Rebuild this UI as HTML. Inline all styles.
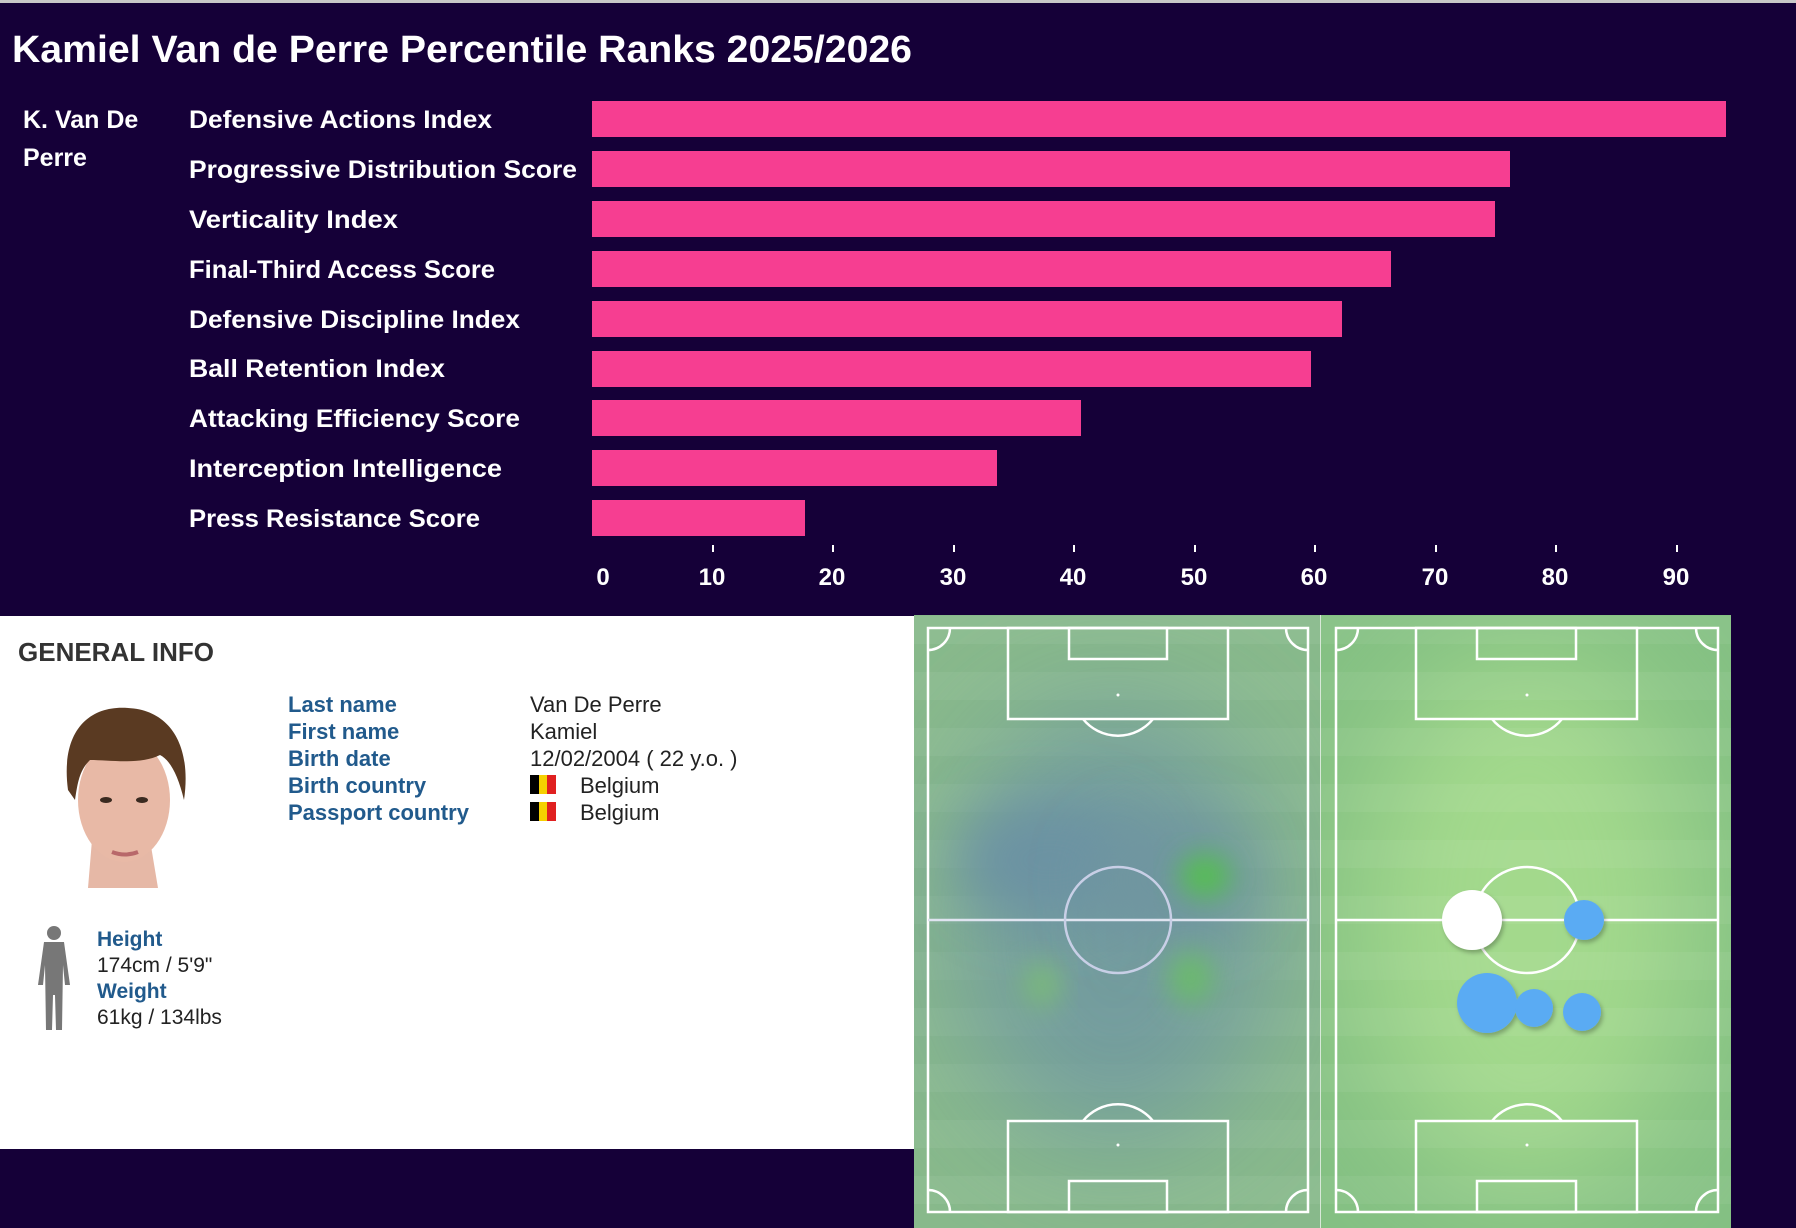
<!DOCTYPE html>
<html><head><meta charset="utf-8"><style>
html,body{margin:0;padding:0;background:#150038;}
svg{display:block}
text{font-family:"Liberation Sans",sans-serif}
</style></head><body>
<svg width="1796" height="1228" viewBox="0 0 1796 1228" xmlns="http://www.w3.org/2000/svg">
<defs>
<filter id="b1" x="-50%" y="-50%" width="200%" height="200%"><feGaussianBlur stdDeviation="28"/></filter>
<filter id="b2" x="-50%" y="-50%" width="200%" height="200%"><feGaussianBlur stdDeviation="14"/></filter>
<filter id="b3" x="-50%" y="-50%" width="200%" height="200%"><feGaussianBlur stdDeviation="60"/></filter>
<filter id="sh"><feDropShadow dx="2" dy="3" stdDeviation="2" flood-color="#000" flood-opacity="0.25"/></filter>
<clipPath id="c1"><rect x="914" y="615" width="406" height="613"/></clipPath>
<clipPath id="c2"><rect x="1321" y="615" width="410" height="613"/></clipPath>
<pattern id="st1" width="10" height="56" patternUnits="userSpaceOnUse"><rect width="10" height="28" fill="#fff" opacity="0.05"/></pattern>
</defs>
<rect width="1796" height="1228" fill="#150038"/>
<rect width="1796" height="3" fill="#c8c8c8"/>
<text x="12" y="62" fill="#fff" font-size="38" font-weight="bold" textLength="900" lengthAdjust="spacingAndGlyphs">Kamiel Van de Perre Percentile Ranks 2025/2026</text>
<g fill="#fff" font-size="25" font-weight="bold">
<text x="23" y="128">K. Van De</text><text x="23" y="166">Perre</text>
<text x="189" y="128" textLength="303" lengthAdjust="spacingAndGlyphs">Defensive Actions Index</text>
<text x="189" y="178" textLength="388" lengthAdjust="spacingAndGlyphs">Progressive Distribution Score</text>
<text x="189" y="228" textLength="209" lengthAdjust="spacingAndGlyphs">Verticality Index</text>
<text x="189" y="278" textLength="306" lengthAdjust="spacingAndGlyphs">Final-Third Access Score</text>
<text x="189" y="328" textLength="331" lengthAdjust="spacingAndGlyphs">Defensive Discipline Index</text>
<text x="189" y="377" textLength="256" lengthAdjust="spacingAndGlyphs">Ball Retention Index</text>
<text x="189" y="427" textLength="331" lengthAdjust="spacingAndGlyphs">Attacking Efficiency Score</text>
<text x="189" y="477" textLength="313" lengthAdjust="spacingAndGlyphs">Interception Intelligence</text>
<text x="189" y="527" textLength="291" lengthAdjust="spacingAndGlyphs">Press Resistance Score</text>
</g>
<g fill="#f63e91">
<rect x="592" y="101" width="1134" height="36"/>
<rect x="592" y="151" width="918" height="36"/>
<rect x="592" y="201" width="903" height="36"/>
<rect x="592" y="251" width="799" height="36"/>
<rect x="592" y="301" width="750" height="36"/>
<rect x="592" y="351" width="719" height="36"/>
<rect x="592" y="400" width="489" height="36"/>
<rect x="592" y="450" width="405" height="36"/>
<rect x="592" y="500" width="213" height="36"/>
</g>
<g stroke="#fff" stroke-width="2">
<line x1="713" y1="545" x2="713" y2="552"/><line x1="833" y1="545" x2="833" y2="552"/><line x1="954" y1="545" x2="954" y2="552"/><line x1="1074" y1="545" x2="1074" y2="552"/><line x1="1195" y1="545" x2="1195" y2="552"/><line x1="1315" y1="545" x2="1315" y2="552"/><line x1="1436" y1="545" x2="1436" y2="552"/><line x1="1556" y1="545" x2="1556" y2="552"/><line x1="1677" y1="545" x2="1677" y2="552"/>
</g>
<g fill="#fff" font-size="24" font-weight="bold" text-anchor="middle">
<text x="603" y="585">0</text><text x="712" y="585">10</text><text x="832" y="585">20</text><text x="953" y="585">30</text><text x="1073" y="585">40</text><text x="1194" y="585">50</text><text x="1314" y="585">60</text><text x="1435" y="585">70</text><text x="1555" y="585">80</text><text x="1676" y="585">90</text>
</g>
<rect x="0" y="616" width="914" height="533" fill="#fff"/>
<text x="18" y="661" fill="#333" font-size="26" font-weight="bold">GENERAL INFO</text>
<g fill="#215a8c" font-size="22" font-weight="bold">
<text x="288" y="712">Last name</text><text x="288" y="739">First name</text><text x="288" y="766">Birth date</text><text x="288" y="793">Birth country</text><text x="288" y="820">Passport country</text>
</g>
<g fill="#222" font-size="22">
<text x="530" y="712">Van De Perre</text><text x="530" y="739">Kamiel</text><text x="530" y="766">12/02/2004 ( 22 y.o. )</text><text x="580" y="793">Belgium</text><text x="580" y="820">Belgium</text>
</g>
<g><rect x="530" y="775" width="9" height="19" fill="#000"/><rect x="539" y="775" width="8" height="19" fill="#f5d000"/><rect x="547" y="775" width="9" height="19" fill="#e02020"/>
<rect x="530" y="802" width="9" height="19" fill="#000"/><rect x="539" y="802" width="8" height="19" fill="#f5d000"/><rect x="547" y="802" width="9" height="19" fill="#e02020"/></g>
<g>
<path d="M88 888 L92 840 L150 840 L158 888 Z" fill="#e6b8a6"/>
<ellipse cx="124" cy="800" rx="46" ry="62" fill="#e8b9a6"/>
<path d="M68 790 C60 730 90 705 128 708 C170 710 192 745 184 800 C178 775 170 760 160 755 C140 765 110 760 90 760 C80 770 78 780 75 800 Z" fill="#5a3a22"/>
<ellipse cx="106" cy="800" rx="6" ry="3" fill="#3a2a20"/><ellipse cx="142" cy="800" rx="6" ry="3" fill="#3a2a20"/>
<path d="M112 852 Q125 857 138 852" stroke="#b8686a" stroke-width="4" fill="none"/>
</g>
<g fill="#777">
<circle cx="54" cy="933" r="7"/>
<path d="M44 942 L64 942 L70 985 L65 985 L63 965 L62 1030 L56 1030 L55 995 L53 995 L52 1030 L46 1030 L45 965 L43 985 L38 985 Z"/>
</g>
<g font-size="21">
<text x="97" y="946" fill="#215a8c" font-weight="bold">Height</text>
<text x="97" y="972" fill="#222">174cm / 5'9"</text>
<text x="97" y="998" fill="#215a8c" font-weight="bold">Weight</text>
<text x="97" y="1024" fill="#222">61kg / 134lbs</text>
</g>
<g clip-path="url(#c1)">
<rect x="914" y="615" width="406" height="613" fill="#88b98b"/>
<rect x="914" y="615" width="406" height="613" fill="url(#st1)"/>
<ellipse cx="1115" cy="925" rx="160" ry="220" fill="#7199a0" opacity="0.9" filter="url(#b3)"/>
<ellipse cx="1050" cy="860" rx="90" ry="60" fill="#6c93a3" filter="url(#b1)"/>
<ellipse cx="1170" cy="880" rx="80" ry="60" fill="#6f95a0" filter="url(#b1)"/>
<ellipse cx="1205" cy="876" rx="26" ry="22" fill="#55c050" filter="url(#b2)"/>
<ellipse cx="1191" cy="978" rx="22" ry="26" fill="#6abb6a" filter="url(#b2)"/>
<ellipse cx="1042" cy="985" rx="18" ry="22" fill="#7abb78" filter="url(#b2)"/>
<g stroke="#fff" stroke-width="2.5" fill="none">
<rect x="928" y="628" width="380" height="584"/>
<line x1="928" y1="920" x2="1308" y2="920" stroke="#dfe4f0"/>
<circle cx="1118" cy="920" r="53" stroke="#c8cfe6"/>
<rect x="1008" y="628" width="220" height="91"/><rect x="1069" y="628" width="98" height="31"/>
<path d="M1083 719 A45 45 0 0 0 1153 719"/>
<rect x="1008" y="1121" width="220" height="91"/><rect x="1069" y="1181" width="98" height="31"/>
<path d="M1083 1121 A45 45 0 0 1 1153 1121"/>
<path d="M928 650 A22 22 0 0 0 950 628"/><path d="M1286 628 A22 22 0 0 0 1308 650"/>
<path d="M928 1190 A22 22 0 0 1 950 1212"/><path d="M1286 1212 A22 22 0 0 1 1308 1190"/>
</g>
<circle cx="1118" cy="695" r="1.5" fill="#fff"/><circle cx="1118" cy="1145" r="1.5" fill="#fff"/>
</g>
<rect x="1320" y="615" width="2" height="613" fill="#d8e8d8"/>
<g clip-path="url(#c2)">
<rect x="1321" y="615" width="410" height="613" fill="#84c083"/>
<ellipse cx="1527" cy="920" rx="170" ry="270" fill="#a3d98c" filter="url(#b3)"/>
<rect x="1321" y="615" width="410" height="613" fill="url(#st1)"/>
<g stroke="#fff" stroke-width="2.5" fill="none">
<rect x="1336" y="628" width="382" height="584"/>
<line x1="1336" y1="920" x2="1718" y2="920"/>
<circle cx="1527" cy="920" r="53"/>
<rect x="1416" y="628" width="221" height="91"/><rect x="1477" y="628" width="99" height="31"/>
<path d="M1492 719 A45 45 0 0 0 1562 719"/>
<rect x="1416" y="1121" width="221" height="91"/><rect x="1477" y="1181" width="99" height="31"/>
<path d="M1492 1121 A45 45 0 0 1 1562 1121"/>
<path d="M1336 650 A22 22 0 0 0 1358 628"/><path d="M1696 628 A22 22 0 0 0 1718 650"/>
<path d="M1336 1190 A22 22 0 0 1 1358 1212"/><path d="M1696 1212 A22 22 0 0 1 1718 1190"/>
</g>
<circle cx="1527" cy="695" r="1.5" fill="#fff"/><circle cx="1527" cy="1145" r="1.5" fill="#fff"/>
<g filter="url(#sh)">
<circle cx="1472" cy="920" r="30" fill="#fff"/>
<circle cx="1584" cy="920" r="20" fill="#5aabf3"/>
<circle cx="1487" cy="1003" r="30" fill="#5aabf3"/>
<circle cx="1534" cy="1008" r="19" fill="#5aabf3"/>
<circle cx="1582" cy="1012" r="19" fill="#5aabf3"/>
</g>
</g>
</svg>
</body></html>
